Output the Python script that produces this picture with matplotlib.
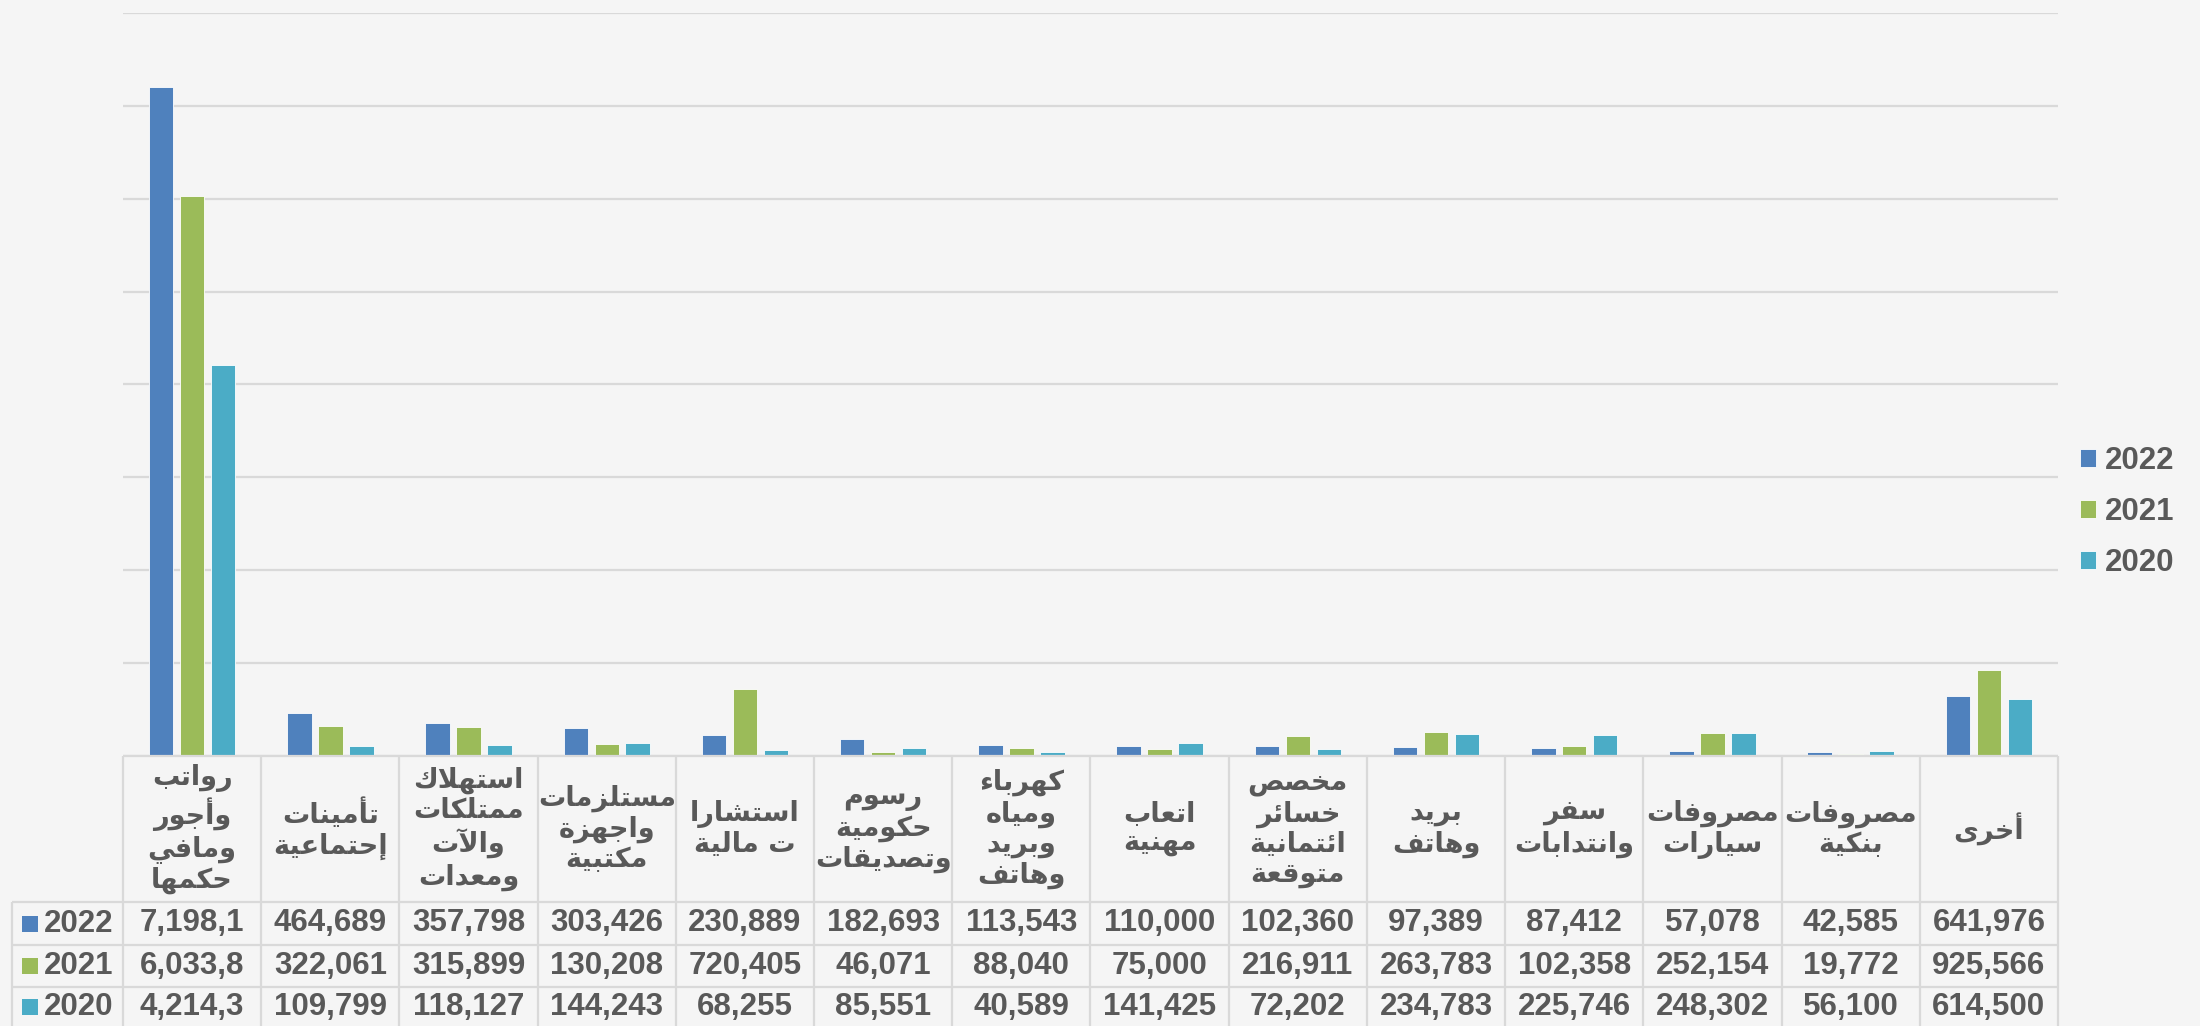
import numpy as np
import matplotlib.pyplot as plt
from matplotlib.patches import Rectangle

# categories (logical order, lines as in the chart)
categories = [
    "رواتب\nوأجور\nومافي\nحكمها",
    "تأمينات\nإحتماعية",
    "استهلاك\nممتلكات\nوالآت\nومعدات",
    "مستلزمات\nواجهزة\nمكتبية",
    "استشارا\nت مالية",
    "رسوم\nحكومية\nوتصديقات",
    "كهرباء\nومياه\nوبريد\nوهاتف",
    "اتعاب\nمهنية",
    "مخصص\nخسائر\nائتمانية\nمتوقعة",
    "بريد\nوهاتف",
    "سفر\nوانتدابات",
    "مصروفات\nسيارات",
    "مصروفات\nبنكية",
    "أخرى",
]

years = ["2022", "2021", "2020"]
v2022 = [7198100, 464689, 357798, 303426, 230889, 182693, 113543, 110000, 102360, 97389, 87412, 57078, 42585, 641976]
v2021 = [6033800, 322061, 315899, 130208, 720405, 46071, 88040, 75000, 216911, 263783, 102358, 252154, 19772, 925566]
v2020 = [4214300, 109799, 118127, 144243, 68255, 85551, 40589, 141425, 72202, 234783, 225746, 248302, 56100, 614500]
colors = ["#4F81BD", "#9BBB59", "#4BACC6"]

BG = "#F5F5F5"
GRID = "#D9D9D9"
TXT = "#595959"

# --- simple arabic shaping (matplotlib has no shaping / bidi) ---
AR_LETTERS = "ءآأؤإئابةتثجحخدذرزسشصضطظعغفقكلمنهوىي"
AR_NFORMS = [1, 2, 2, 2, 2, 4, 2, 4, 2, 4, 4, 4, 4, 4, 2, 2, 2, 2,
             4, 4, 4, 4, 4, 4, 4, 4, 4, 4, 4, 4, 4, 4, 4, 2, 2, 4]
FORMS = {}
code = 0xFE80
for ch, n in zip(AR_LETTERS, AR_NFORMS):
    FORMS[ch] = [chr(code + k) for k in range(n)]
    code += n
LAM_ALEF = {"آ": 0xFEF5, "أ": 0xFEF7, "إ": 0xFEF9, "ا": 0xFEFB}
for a, c in LAM_ALEF.items():
    FORMS["ل" + a] = [chr(c), chr(c + 1)]


def shape_line(s):
    toks = []
    i = 0
    while i < len(s):
        if s[i] == "ل" and i + 1 < len(s) and s[i + 1] in LAM_ALEF:
            toks.append("ل" + s[i + 1])
            i += 2
        else:
            toks.append(s[i])
            i += 1
    out = []
    for i, t in enumerate(toks):
        if t not in FORMS:
            out.append(t)
            continue
        f = FORMS[t]
        prev = toks[i - 1] if i > 0 else None
        nxt = toks[i + 1] if i + 1 < len(toks) else None
        jp = prev in FORMS and len(FORMS[prev]) == 4 and len(f) >= 2
        jn = len(f) == 4 and nxt in FORMS and len(FORMS[nxt]) >= 2
        if jp and jn:
            out.append(f[3])
        elif jp:
            out.append(f[1])
        elif jn:
            out.append(f[2])
        else:
            out.append(f[0])
    return "".join(out[::-1])


def shape(s):
    return "\n".join(shape_line(l) for l in s.split("\n"))


FAM = ["Liberation Sans", "DejaVu Sans"]
AR_FAM = ["DejaVu Sans"]
plt.rcParams["font.family"] = FAM

W, H = 2200, 1026
fig = plt.figure(figsize=(W / 100, H / 100), dpi=100, facecolor=BG)

px_left, px_right, px_top, px_axis = 123, 2058, 13, 756
ax = fig.add_axes([px_left / W, (H - px_axis) / H, (px_right - px_left) / W, (px_axis - px_top) / H])
ax.set_facecolor(BG)

n = len(categories)
x = np.arange(n)
pitch, bw = 0.224, 0.177
series = [v2022, v2021, v2020]
bars = []
for k, (vals, col) in enumerate(zip(series, colors)):
    b = ax.bar(x + (k - 1) * pitch, vals, width=bw, color=col, edgecolor="white",
               linewidth=0.6, zorder=3, label=years[k])
    bars.append(b)

ax.set_xlim(-0.5, n - 0.5)
ax.set_ylim(0, 8000000)
ax.set_yticks(np.arange(0, 8000001, 1000000))
ax.yaxis.grid(True, color=GRID, linewidth=1.6, zorder=0)
ax.tick_params(left=False, bottom=False, labelleft=False, labelbottom=False)
for sp in ax.spines.values():
    sp.set_visible(False)

# legend
fig.legend(handles=bars, labels=years, loc="center left",
           bbox_to_anchor=(2052 / W, 1 - 512 / H), frameon=False,
           handlelength=0.5, handleheight=0.5, handletextpad=0.3,
           labelspacing=0.68, prop={"family": FAM, "weight": "bold", "size": 22.5},
           labelcolor=TXT)

# data table below the axis, y in pixels from the top
tax = fig.add_axes([px_left / W, 0, (px_right - px_left) / W, (H - px_axis) / H])
tax.set_xlim(-0.5, n - 0.5)
tax.set_ylim(H, px_axis)
tax.axis("off")

cw = (px_right - px_left) / n
key_left = -0.5 + (12 - px_left) / cw
row_lines = [902, 945, 987]
row_mid = [923.5, 966, 1007]

lkw = dict(color=GRID, linewidth=1.6, clip_on=False, solid_capstyle="butt")
tax.plot([-0.5, n - 0.5], [px_axis, px_axis], **lkw)
for y in row_lines:
    tax.plot([key_left, n - 0.5], [y, y], **lkw)
for i in range(n + 1):
    tax.plot([i - 0.5, i - 0.5], [px_axis, H], **lkw)
tax.plot([key_left, key_left], [row_lines[0], H], **lkw)

for i, cat in enumerate(categories):
    tax.text(i, 829, shape(cat), ha="center", va="center", fontsize=19.5,
             fontweight="bold", color=TXT, linespacing=1.2, family=AR_FAM)

sq = 16 / cw
for r, (yr, vals, col) in enumerate(zip(years, series, colors)):
    ym = row_mid[r]
    tax.add_patch(Rectangle((-0.5 + (22 - px_left) / cw, ym - 8), sq, 16,
                            facecolor=col, edgecolor="none", clip_on=False))
    tax.text(-0.5 + (44 - px_left) / cw, ym, yr, ha="left", va="center",
             fontsize=22.5, fontweight="bold", color=TXT)
    for i, v in enumerate(vals):
        s = "{:,}".format(v)[:7]
        tax.text(i, ym, s, ha="center", va="center", fontsize=22.5,
                 fontweight="bold", color=TXT)

fig.savefig("out.png", dpi=100, facecolor=BG)
